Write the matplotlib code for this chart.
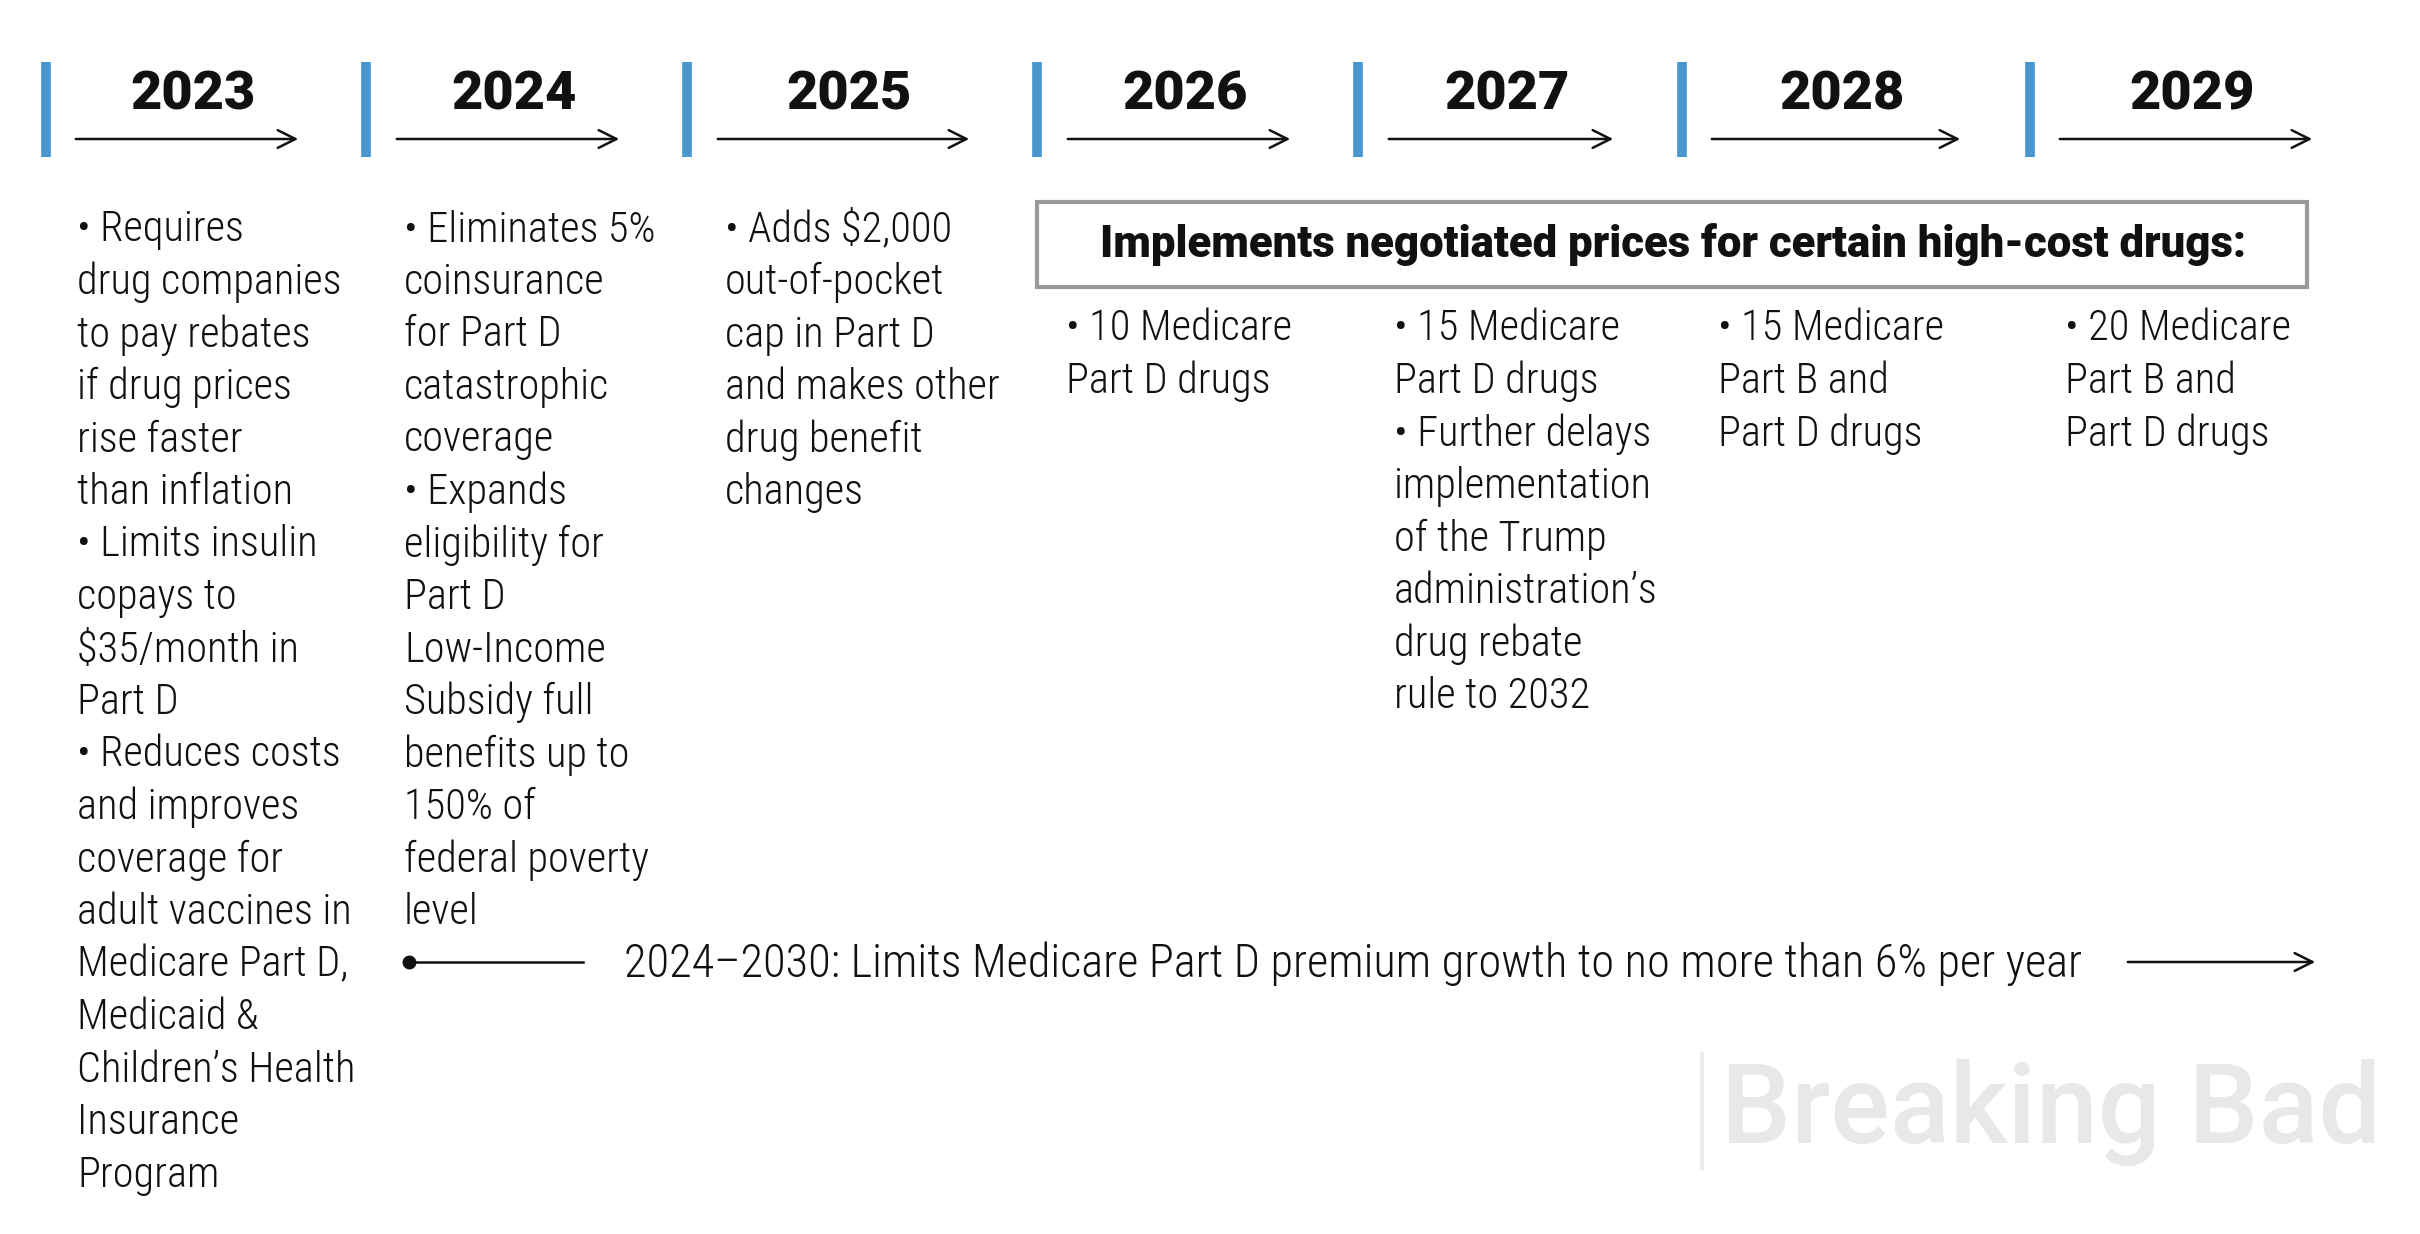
import matplotlib.pyplot as plt

years = ["2023", "2024", "2025", "2026", "2027", "2028", "2029"]

notes_2023 = ["• Requires", "drug companies", "to pay rebates", "if drug prices",
              "rise faster", "than inflation", "• Limits insulin", "copays to",
              "$35/month in", "Part D", "• Reduces costs", "and improves",
              "coverage for", "adult vaccines in", "Medicare Part D,", "Medicaid &",
              "Children’s Health", "Insurance", "Program"]
notes_2024 = ["• Eliminates 5%", "coinsurance", "for Part D", "catastrophic",
              "coverage", "• Expands", "eligibility for", "Part D", "Low-Income",
              "Subsidy full", "benefits up to", "150% of", "federal poverty", "level"]
notes_2025 = ["• Adds $2,000", "out-of-pocket", "cap in Part D", "and makes other",
              "drug benefit", "changes"]
notes_2026 = ["• 10 Medicare", "Part D drugs"]
notes_2027 = ["• 15 Medicare", "Part D drugs", "• Further delays", "implementation",
              "of the Trump", "administration’s", "drug rebate", "rule to 2032"]
notes_2028 = ["• 15 Medicare", "Part B and", "Part D drugs"]
notes_2029 = ["• 20 Medicare", "Part B and", "Part D drugs"]
notes = [notes_2023, notes_2024, notes_2025, notes_2026, notes_2027, notes_2028, notes_2029]

box_title = "Implements negotiated prices for certain high-cost drugs:"
bottom_note = "2024–2030: Limits Medicare Part D premium growth to no more than 6% per year"

# layout in pixels
bar_x = [46, 366, 687, 1037, 1358, 1682, 2030]
arrow_x0 = [73, 394, 715, 1065, 1386, 1709, 2057]
arrow_x1 = [301, 622, 972, 1293, 1616, 1963, 2315]
text_x = [77, 404, 725, 1066, 1394, 1718, 2065]
text_y0 = [230, 230, 230, 329, 329, 329, 329]
line_h = 52.5

body_font = ['Roboto Condensed', 'Roboto', 'DejaVu Sans']
bold_font = ['Roboto', 'DejaVu Sans']
blue = '#4a97d0'
ink = '#111111'

fig = plt.figure(figsize=(24.2, 12.34), dpi=100)
ax = fig.add_axes([0, 0, 1, 1])
ax.set_xlim(0, 2420)
ax.set_ylim(1234, 0)
ax.axis('off')

for i, yr in enumerate(years):
    ax.plot([bar_x[i], bar_x[i]], [62, 157], color=blue, lw=7, solid_capstyle='butt')
    ax.annotate('', xy=(arrow_x1[i], 139), xytext=(arrow_x0[i], 139),
                arrowprops=dict(arrowstyle='->', color=ink, lw=1.8, mutation_scale=32))
    ax.text((arrow_x0[i] + arrow_x1[i]) / 2 + 6, 95, yr, ha='center', va='center',
            fontsize=39, fontweight='heavy', family=bold_font, color=ink)
    for j, line in enumerate(notes[i]):
        ax.text(text_x[i], text_y0[i] + j * line_h, line, ha='left', va='center',
                fontsize=30.5, fontweight='light', family=body_font, color=ink)

# box over 2026-2029
ax.add_patch(plt.Rectangle((1037, 202), 2307 - 1037, 287 - 202, fill=False,
                           edgecolor='#999999', lw=3))
ax.text(1673, 245, box_title, ha='center', va='center', fontsize=31.5,
        fontweight='heavy', family=bold_font, color=ink)

# bottom span
ax.plot([409, 583], [962, 962], color=ink, lw=1.8)
ax.plot([409], [962], 'o', color=ink, ms=9)
ax.text(624, 964, bottom_note, ha='left', va='center', fontsize=33.4,
        fontweight='light', family=body_font, color=ink)
ax.annotate('', xy=(2318, 962), xytext=(2125, 962),
            arrowprops=dict(arrowstyle='->', color=ink, lw=1.8, mutation_scale=32))

# faint watermark
ax.plot([1702, 1702], [1054, 1168], color='#ececec', lw=3)
ax.text(1721, 1112, "Breaking Bad", ha='left', va='center', fontsize=80,
        fontweight='medium', family=['Roboto', 'DejaVu Sans'], color='#e8e8e8')

fig.savefig("out.png", dpi=100)
